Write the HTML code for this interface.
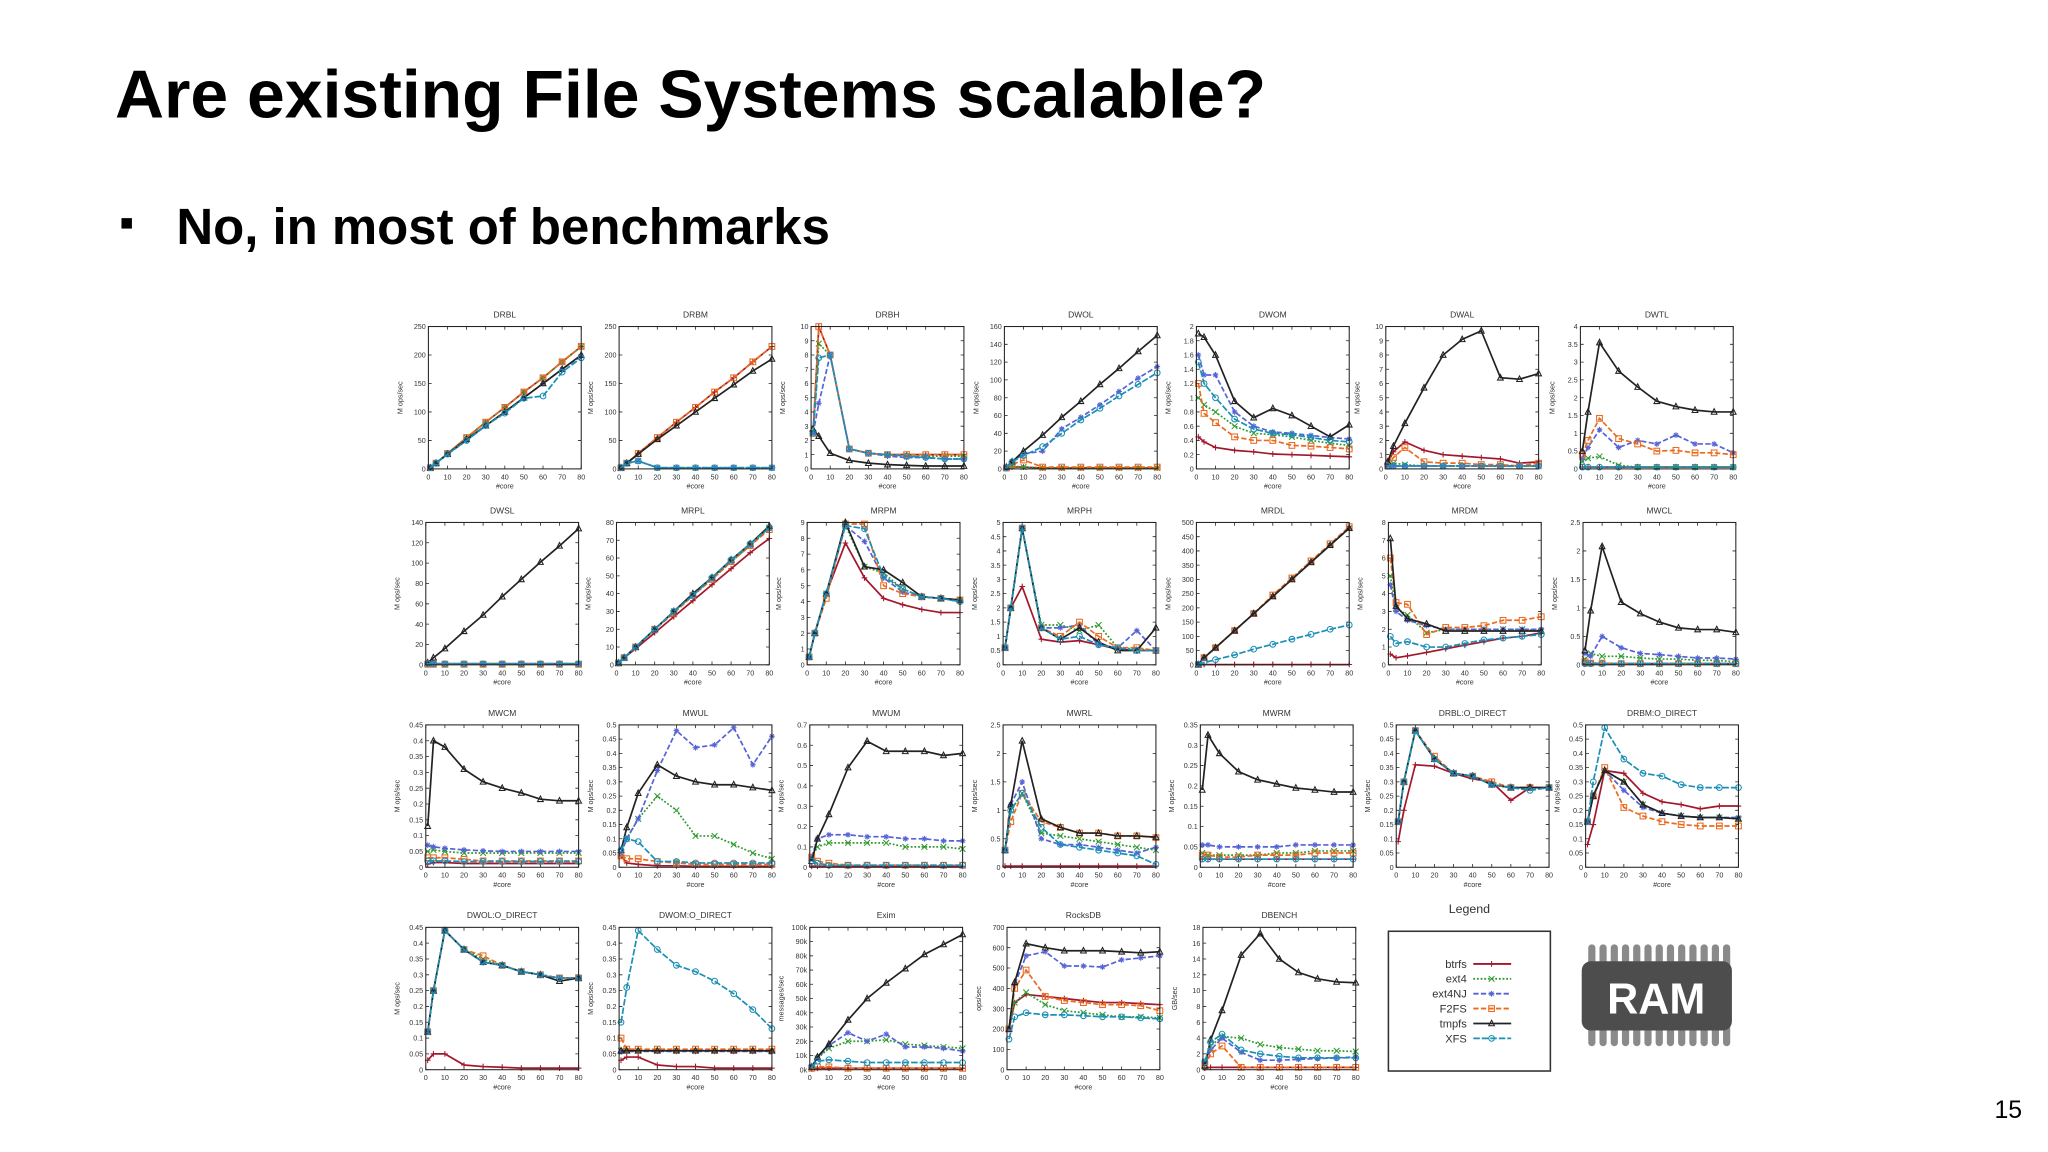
<!DOCTYPE html>
<html><head><meta charset="utf-8">
<style>
html,body{margin:0;padding:0;background:#fff;}
body{width:2048px;height:1152px;overflow:hidden;}
svg{display:block;font-family:"Liberation Sans","DejaVu Sans",sans-serif;}
</style></head>
<body>
<svg id="slide" width="2048" height="1152" viewBox="0 0 1568 882" xmlns="http://www.w3.org/2000/svg">
<text x="88" y="90" font-size="52" font-weight="bold" fill="#000">Are existing File Systems scalable?</text>
<rect x="93" y="167" width="8" height="8" fill="#000"/>
<text x="135" y="187" font-size="39" font-weight="bold" fill="#000">No, in most of benchmarks</text>
<text x="1527" y="856" font-size="19" fill="#000">15</text>
<g id="charts"></g>
<g>
<text x="1125" y="699" font-size="9.5" text-anchor="middle" fill="#333">Legend</text>
<rect x="1063" y="713" width="124" height="107" fill="#fff" stroke="#333" stroke-width="1.2"/>
<g id="legendItems"></g>
</g>
<g>
<g id="ramPins"></g>
<rect x="1211" y="736" width="115" height="53" rx="7" fill="#4d4d4d"/>
<text x="1268" y="776" font-size="33" font-weight="bold" fill="#fff" text-anchor="middle">RAM</text>
</g>
</svg>
<script>
const X=[1,4,10,20,30,40,50,60,70,80];
const SERIES=["btrfs","ext4","ext4NJ","F2FS","tmpfs","XFS"];
const TITLES=["DRBL","DRBM","DRBH","DWOL","DWOM","DWAL","DWTL","DWSL","MRPL","MRPM","MRPH","MRDL","MRDM","MWCL","MWCM","MWUL","MWUM","MWRL","MWRM","DRBL:O_DIRECT","DRBM:O_DIRECT","DWOL:O_DIRECT","DWOM:O_DIRECT","Exim","RocksDB","DBENCH"];
const YMAX=[250,250,10,160,2,10,4,140,80,9,5,500,8,2.5,0.45,0.5,0.7,2.5,0.35,0.5,0.5,0.45,0.45,100,700,18];
const YSTEP=[50,50,1,20,0.2,1,0.5,20,10,1,0.5,50,1,0.5,0.05,0.05,0.1,0.5,0.05,0.05,0.05,0.05,0.05,10,100,2];
const YLAB=["M ops/sec","M ops/sec","M ops/sec","M ops/sec","M ops/sec","M ops/sec","M ops/sec","M ops/sec","M ops/sec","M ops/sec","M ops/sec","M ops/sec","M ops/sec","M ops/sec","M ops/sec","M ops/sec","M ops/sec","M ops/sec","M ops/sec","M ops/sec","M ops/sec","M ops/sec","M ops/sec","messages/sec","ops/sec","GB/sec"];

const DRBL=[[2,10,27,55,82,108,135,160,188,215],[2,10,27,55,82,108,135,160,188,215],[2,10,26,50,76,100,125,150,175,198],[2,10,27,55,82,108,135,160,188,215],[2,10,26,52,76,100,125,150,175,200],[2,10,26,50,76,98,124,128,170,195]];
const DRBM=[[2,10,27,55,82,108,135,160,188,215],[2,10,14,2,2,2,2,2,2,2],[2,10,14,2,2,2,2,2,2,2],[2,10,27,55,82,108,135,160,188,215],[2,10,26,52,76,100,124,148,172,193],[2,10,14,2,2,2,2,2,2,2]];
const DRBH=[[2.5,10,8,1.4,1.1,1,1,1,1,1],[2.5,8.8,8,1.4,1.1,1,0.9,0.9,0.9,0.9],[2.5,4.6,8,1.4,1.1,0.9,0.8,0.8,0.7,0.7],[2.5,10,8,1.4,1.1,1,1,1,1,1],[2.8,2.3,1.1,0.6,0.4,0.3,0.25,0.2,0.2,0.2],[2.5,7.8,8,1.4,1.1,1,0.9,0.8,0.7,0.7]];
const DWOL=[[1,2,2,1,1,1,1,1,1,1],[1,3,2,1,1,1,1,1,1,1],[1,8,17,20,45,58,72,87,102,115],[1,5,10,2,2,2,2,2,2,2],[2,8,20,38,58,76,95,113,132,150],[1,8,15,25,40,55,68,82,95,108]];
const DWOM=[[0.45,0.38,0.3,0.26,0.24,0.21,0.2,0.19,0.18,0.17],[1,0.9,0.8,0.6,0.5,0.48,0.45,0.4,0.36,0.33],[1.6,1.32,1.32,0.8,0.6,0.52,0.5,0.47,0.44,0.42],[1.2,0.78,0.65,0.45,0.4,0.4,0.33,0.32,0.3,0.28],[1.9,1.85,1.6,0.95,0.72,0.85,0.75,0.6,0.45,0.62],[1.5,1.2,1,0.7,0.56,0.5,0.48,0.44,0.4,0.38]];
const DWAL=[[0.4,1.2,1.9,1.3,1,0.9,0.8,0.7,0.4,0.5],[0.3,0.4,0.3,0.2,0.2,0.2,0.2,0.2,0.2,0.2],[0.2,0.2,0.2,0.2,0.2,0.2,0.2,0.2,0.2,0.2],[0.2,0.8,1.5,0.5,0.4,0.4,0.3,0.3,0.2,0.4],[0.5,1.6,3.2,5.7,8,9.1,9.7,6.4,6.3,6.7],[0.2,0.2,0.2,0.2,0.2,0.2,0.2,0.2,0.2,0.2]];
const DWTL=[[0.05,0.05,0.05,0.05,0.05,0.05,0.05,0.05,0.05,0.05],[0.2,0.3,0.35,0.1,0.05,0.05,0.05,0.05,0.05,0.05],[0.3,0.6,1.1,0.6,0.8,0.7,0.95,0.7,0.7,0.45],[0.4,0.8,1.42,0.85,0.7,0.5,0.52,0.45,0.45,0.4],[0.5,1.6,3.55,2.75,2.3,1.9,1.75,1.65,1.6,1.6],[0.05,0.05,0.05,0.05,0.05,0.05,0.05,0.05,0.05,0.05]];
const DWSL=[[1,1,1,1,1,1,1,1,1,1],[1,1,1,1,1,1,1,1,1,1],[1,1,1,1,1,1,1,1,1,1],[0.5,0.5,0.5,0.5,0.5,0.5,0.5,0.5,0.5,0.5],[2,7,16,33,49,67,84,101,117,134],[1,1,1,1,1,1,1,1,1,1]];
const MRPL=[[1,4,9,18,27,36,45,54,63,71],[1,4,10,20,30,39,48,58,67,77],[1,4,10,20,30,39,48,58,67,77],[1,4,10,20,29,39,48,58,67,76],[1,4,10,20,30,40,49,59,68,78],[1,4,10,20,30,39,49,59,68,77]];
const MRPM=[[0.5,2,4.5,7.7,5.5,4.2,3.8,3.5,3.3,3.3],[0.5,2,4.5,8.8,6.2,5.8,4.8,4.3,4.2,4.1],[0.5,2,4.5,8.8,7.8,5.5,4.6,4.3,4.2,4],[0.5,2,4.2,8.9,8.9,5,4.5,4.3,4.2,4.1],[0.5,2,4.5,9,6.2,6,5.2,4.3,4.2,4.1],[0.5,2,4.5,8.8,8.6,5.6,4.8,4.3,4.2,4]];
const MRPH=[[0.6,2,2.75,0.9,0.8,0.85,0.7,0.55,0.5,0.5],[0.6,2,4.8,1.4,1.4,1.2,1.4,0.6,0.55,0.5],[0.6,2,4.8,1.3,1.3,1.4,0.7,0.6,1.2,0.5],[0.6,2,4.8,1.3,1,1.5,1,0.6,0.6,0.5],[0.6,2,4.8,1.3,0.9,1.3,0.8,0.5,0.5,1.3],[0.6,2,4.8,1.3,0.9,1,0.7,0.6,0.5,0.5]];
const MRDL=[[1,1,1,1,1,1,1,1,1,1],[1,25,60,120,180,240,300,360,420,480],[1,25,60,120,180,240,300,360,420,480],[1,25,60,120,180,245,305,365,425,485],[1,25,60,120,180,240,300,360,420,480],[1,8,18,35,55,72,90,107,125,140]];
const MRDM=[[0.6,0.4,0.5,0.7,0.9,1.1,1.3,1.5,1.6,1.8],[5,3.2,2.8,1.8,2,2,2,2,2,1.9],[4.5,3,2.5,2.2,2,2,2,2,2,2],[6,3.5,3.4,1.7,2.1,2.1,2.2,2.5,2.5,2.7],[7.1,3.3,2.6,2.3,1.9,1.9,1.9,1.9,1.9,1.9],[1.6,1.2,1.3,1,1,1.2,1.4,1.5,1.6,1.7]];
const MWCL=[[0.02,0.02,0.02,0.02,0.02,0.02,0.02,0.02,0.02,0.02],[0.1,0.2,0.15,0.15,0.12,0.1,0.1,0.08,0.08,0.05],[0.2,0.15,0.5,0.3,0.2,0.18,0.15,0.12,0.12,0.1],[0.05,0.03,0.03,0.02,0.02,0.02,0.02,0.02,0.02,0.02],[0.25,0.95,2.08,1.1,0.9,0.75,0.65,0.62,0.62,0.57],[0.02,0.02,0.02,0.02,0.02,0.02,0.02,0.02,0.02,0.02]];
const MWCM=[[0.01,0.015,0.015,0.012,0.012,0.012,0.012,0.012,0.012,0.012],[0.05,0.055,0.05,0.045,0.045,0.045,0.045,0.045,0.045,0.045],[0.07,0.065,0.06,0.055,0.052,0.05,0.05,0.05,0.05,0.05],[0.03,0.03,0.03,0.025,0.02,0.02,0.02,0.02,0.02,0.02],[0.13,0.4,0.38,0.31,0.27,0.25,0.235,0.215,0.21,0.21],[0.02,0.02,0.02,0.018,0.018,0.018,0.018,0.018,0.018,0.018]];
const MWUL=[[0.04,0.015,0.01,0.005,0.005,0.003,0.003,0.003,0.003,0.003],[0.05,0.1,0.17,0.25,0.2,0.11,0.11,0.08,0.05,0.03],[0.05,0.1,0.17,0.34,0.48,0.42,0.43,0.49,0.36,0.46],[0.04,0.03,0.03,0.02,0.015,0.01,0.01,0.01,0.01,0.01],[0.06,0.14,0.26,0.36,0.32,0.3,0.29,0.29,0.28,0.27],[0.06,0.1,0.09,0.02,0.02,0.015,0.015,0.015,0.015,0.015]];
const MWUM=[[0.005,0.005,0.005,0.005,0.005,0.005,0.005,0.005,0.005,0.005],[0.05,0.1,0.12,0.12,0.12,0.12,0.1,0.1,0.1,0.09],[0.05,0.14,0.16,0.16,0.15,0.15,0.14,0.14,0.13,0.13],[0.05,0.03,0.02,0.01,0.01,0.01,0.01,0.01,0.01,0.01],[0.03,0.14,0.26,0.49,0.62,0.57,0.57,0.57,0.55,0.56],[0.03,0.02,0.01,0.01,0.01,0.01,0.01,0.01,0.01,0.01]];
const MWRL=[[0.02,0.02,0.02,0.02,0.02,0.02,0.02,0.02,0.02,0.02],[0.3,1,1.3,0.6,0.55,0.5,0.45,0.4,0.35,0.3],[0.3,1.1,1.5,0.5,0.4,0.4,0.35,0.3,0.25,0.35],[0.3,0.8,1.3,0.8,0.7,0.6,0.6,0.55,0.55,0.52],[0.3,1.1,2.22,0.85,0.7,0.6,0.6,0.55,0.55,0.53],[0.3,1,1.3,0.7,0.4,0.35,0.3,0.25,0.2,0.05]];
const MWRM=[[0.02,0.02,0.02,0.02,0.02,0.02,0.02,0.02,0.02,0.02],[0.035,0.03,0.03,0.03,0.03,0.035,0.035,0.04,0.04,0.04],[0.055,0.055,0.05,0.05,0.05,0.05,0.055,0.055,0.055,0.055],[0.03,0.03,0.025,0.025,0.03,0.03,0.03,0.035,0.035,0.035],[0.19,0.325,0.28,0.235,0.215,0.205,0.195,0.19,0.185,0.185],[0.02,0.02,0.02,0.02,0.02,0.02,0.02,0.02,0.02,0.02]];
const DRBLOD=[[0.09,0.2,0.36,0.355,0.33,0.31,0.3,0.235,0.28,0.28],[0.16,0.3,0.48,0.38,0.33,0.32,0.29,0.28,0.28,0.28],[0.16,0.3,0.48,0.38,0.33,0.32,0.29,0.28,0.28,0.28],[0.16,0.3,0.48,0.39,0.33,0.32,0.3,0.28,0.28,0.28],[0.16,0.3,0.48,0.38,0.33,0.32,0.29,0.28,0.28,0.28],[0.16,0.3,0.48,0.38,0.33,0.32,0.29,0.28,0.27,0.28]];
const DRBMOD=[[0.08,0.15,0.34,0.33,0.26,0.23,0.22,0.205,0.215,0.215],[0.16,0.25,0.34,0.3,0.22,0.19,0.18,0.175,0.175,0.17],[0.16,0.25,0.34,0.27,0.21,0.19,0.18,0.175,0.175,0.175],[0.16,0.25,0.35,0.21,0.18,0.16,0.15,0.145,0.145,0.145],[0.16,0.25,0.34,0.3,0.22,0.19,0.18,0.175,0.175,0.17],[0.16,0.3,0.49,0.38,0.33,0.32,0.29,0.28,0.28,0.28]];
const DWOLOD=[[0.03,0.05,0.05,0.015,0.01,0.008,0.005,0.005,0.005,0.005],[0.12,0.25,0.44,0.38,0.35,0.33,0.31,0.3,0.29,0.29],[0.12,0.25,0.44,0.38,0.34,0.33,0.31,0.3,0.29,0.29],[0.12,0.25,0.44,0.38,0.36,0.33,0.31,0.3,0.29,0.29],[0.12,0.25,0.44,0.38,0.34,0.33,0.31,0.3,0.28,0.29],[0.12,0.25,0.44,0.38,0.34,0.33,0.31,0.3,0.29,0.29]];
const DWOMOD=[[0.03,0.04,0.04,0.015,0.01,0.01,0.005,0.005,0.005,0.005],[0.06,0.06,0.06,0.06,0.06,0.06,0.06,0.06,0.06,0.06],[0.058,0.058,0.058,0.058,0.058,0.058,0.058,0.058,0.058,0.058],[0.1,0.065,0.065,0.065,0.065,0.065,0.065,0.065,0.065,0.065],[0.06,0.06,0.06,0.06,0.06,0.06,0.06,0.06,0.06,0.06],[0.15,0.26,0.44,0.38,0.33,0.31,0.28,0.24,0.19,0.13]];
const EXIM=[[0.5,1,1,1,1,1,1,1,1,1],[2,8,15,20,20,21,18,17,16,15],[2,8,17,26,20,25,16,16,15,13],[1,2,2,1,1,1,1,1,1,1],[2,9,18,35,50,61,71,81,88,95],[2,6,7,6,5,5,5,5,5,5]];
const ROCKSDB=[[200,330,370,360,350,340,330,330,325,320],[200,330,380,320,290,280,270,260,260,255],[200,420,560,580,510,510,505,540,550,560],[200,400,490,360,340,330,320,320,315,290],[200,430,620,600,585,585,585,580,575,580],[150,260,280,270,270,265,260,260,255,250]];
const DBENCH=[[0.2,0.3,0.3,0.3,0.3,0.3,0.3,0.3,0.3,0.3],[1,3,4.2,4,3.2,2.8,2.6,2.4,2.4,2.3],[1,2.5,4,2.2,1.2,1.2,1.3,1.4,1.5,1.6],[0.5,2,3,0.3,0.3,0.3,0.3,0.3,0.3,0.3],[0.5,3.8,7.5,14.5,17.2,14,12.3,11.5,11.1,11],[1,3.5,4.5,2.5,2,1.7,1.5,1.5,1.5,1.5]];
const ALLDATA=[DRBL,DRBM,DRBH,DWOL,DWOM,DWAL,DWTL,DWSL,MRPL,MRPM,MRPH,MRDL,MRDM,MWCL,MWCM,MWUL,MWUM,MWRL,MWRM,DRBLOD,DRBMOD,DWOLOD,DWOMOD,EXIM,ROCKSDB,DBENCH];
const XTICKS=[0,10,20,30,40,50,60,70,80];

const COLORS=["#a3172c","#2f9a2f","#5563d6","#ea6a1e","#222222","#1b8fb5"];
const DASH=["","1.4,1.4","4,1.8","4,1.8","","5,1.5"];
const NS="http://www.w3.org/2000/svg";
function mk(tag,attrs,parent){const e=document.createElementNS(NS,tag);for(const k in attrs)e.setAttribute(k,attrs[k]);if(parent)parent.appendChild(e);return e;}
const LEFTS=[[328,474,621,769,916,1061,1210],[326,472,618,768,916,1063,1212],[326,474,620,768,919,1069,1214],[326,474,620,771,921]];
const TOPS=[250,400,555,710];
const W=117,H=109;
function fmt(v,i){let s=(Math.round(v*1000)/1000).toString();if(TITLES[i]==="Exim")s=s+"k";return s;}
function marker(g,k,x,y,c){
  const r=2.2;
  if(k===0){mk("path",{d:`M${x-r} ${y}H${x+r}M${x} ${y-r}V${y+r}`,stroke:c,"stroke-width":0.8,fill:"none"},g);}
  else if(k===1){mk("path",{d:`M${x-r} ${y-r}L${x+r} ${y+r}M${x-r} ${y+r}L${x+r} ${y-r}`,stroke:c,"stroke-width":0.8,fill:"none"},g);}
  else if(k===2){mk("path",{d:`M${x-r} ${y}H${x+r}M${x} ${y-r}V${y+r}M${x-r*0.7} ${y-r*0.7}L${x+r*0.7} ${y+r*0.7}M${x-r*0.7} ${y+r*0.7}L${x+r*0.7} ${y-r*0.7}`,stroke:c,"stroke-width":0.8,fill:"none"},g);}
  else if(k===3){mk("rect",{x:x-r,y:y-r,width:2*r,height:2*r,stroke:c,"stroke-width":0.8,fill:"none"},g);}
  else if(k===4){mk("path",{d:`M${x} ${y-r-0.3}L${x+r} ${y+r*0.8}L${x-r} ${y+r*0.8}Z`,stroke:c,"stroke-width":0.8,fill:"none"},g);}
  else {mk("circle",{cx:x,cy:y,r:r,stroke:c,"stroke-width":0.8,fill:"none"},g);}
}
const root=document.getElementById("charts");
TITLES.forEach((t,i)=>{
  const row=Math.floor(i/7),col=i%7;
  const L=LEFTS[row][col],T=TOPS[row];
  const g=mk("g",{},root);
  
  
  const xs=v=>L+v/80*W, ys=v=>T+H-v/YMAX[i]*H;
  const ttl=mk("text",{x:L+W/2,y:T-7,"font-size":6.5,"text-anchor":"middle",fill:"#333"},g);ttl.textContent=t;
  
  
  const n=Math.round(YMAX[i]/YSTEP[i]);
  for(let k=0;k<=n;k++){const v=k*YSTEP[i],y=ys(v);
    mk("path",{d:`M${L} ${y}h2.5M${L+W} ${y}h-2.5`,stroke:"#222","stroke-width":0.6},g);
    const tl=mk("text",{x:L-2,y:y+2,"font-size":5.5,"text-anchor":"end",fill:"#333"},g);tl.textContent=fmt(v,i);
    
    }
  XTICKS.forEach(v=>{const x=xs(v);
    mk("path",{d:`M${x} ${T+H}v-2.5M${x} ${T}v2.5`,stroke:"#222","stroke-width":0.6},g);
    const tl=mk("text",{x:x,y:T+H+8,"font-size":5.5,"text-anchor":"middle",fill:"#333"},g);tl.textContent=v;
    
    });
  const xt=mk("text",{x:L+W/2,y:T+H+15,"font-size":5.5,"text-anchor":"middle",fill:"#333"},g);xt.textContent="#core";
  
  
  const yx=L-20,yy=T+H/2;
  const yt=mk("text",{x:yx,y:yy,"font-size":5.5,"text-anchor":"middle",fill:"#333",transform:`rotate(-90 ${yx} ${yy})`},g);yt.textContent=YLAB[i];
  
  
  ALLDATA[i].forEach((vals,s)=>{
    const sg=mk("g",{},g);
    
    
    const d=vals.map((v,j)=>(j?"L":"M")+xs(X[j]).toFixed(1)+" "+ys(v).toFixed(1)).join("");
    const a={d:d,stroke:COLORS[s],"stroke-width":1.3,fill:"none"};if(DASH[s])a["stroke-dasharray"]=DASH[s];
    mk("path",a,sg);
    vals.forEach((v,j)=>marker(sg,s,xs(X[j]),ys(v),COLORS[s]));
  });
  const fr=mk("rect",{x:L,y:T,width:W,height:H,fill:"none",stroke:"#222","stroke-width":0.8},g);
  
  
});
const li=document.getElementById("legendItems");
SERIES.forEach((s,k)=>{
  const y=738+k*11.4;
  const g=mk("g",{},li);
  
  
  const tx=mk("text",{x:1123,y:y+3,"font-size":8.5,"text-anchor":"end",fill:"#333"},g);tx.textContent=s;
  const a={d:`M1128 ${y}H1157`,stroke:COLORS[k],"stroke-width":1.4,fill:"none"};if(DASH[k])a["stroke-dasharray"]=DASH[k];
  mk("path",a,g);
  marker(g,k,1142,y,COLORS[k]);
});
const rp=document.getElementById("ramPins");
for(let k=0;k<13;k++){const x=1216+k*8.6;
  mk("rect",{x:x,y:723,width:5.5,height:20,rx:2.7,fill:"#8a8a8a"},rp);
  mk("rect",{x:x,y:782,width:5.5,height:19,rx:2.7,fill:"#8a8a8a"},rp);}
</script>
</body></html>
